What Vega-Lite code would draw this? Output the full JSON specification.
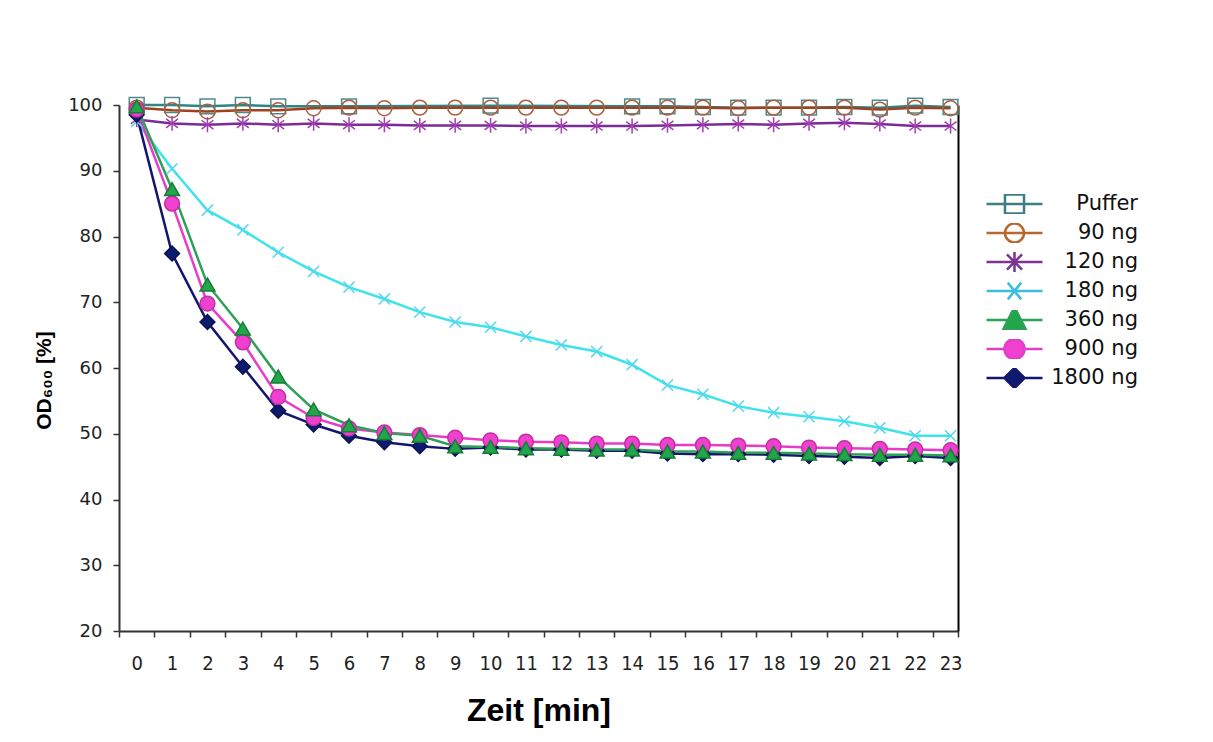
{
"$schema": "https://vega.github.io/schema/vega-lite/v6.json",
"width": 839, "height": 526,
"autosize": {"type": "none"},
"padding": {"left": 119, "top": 105, "right": 255, "bottom": 111},
"background": "white",
"config": {"view": {"stroke": null}, "font": "Liberation Sans", "axis": {"grid": false}},
"data": {"values": [
{"series":"Puffer","t":0,"od":100},{"series":"Puffer","t":1,"od":100},{"series":"Puffer","t":2,"od":99.8},{"series":"Puffer","t":3,"od":100},{"series":"Puffer","t":4,"od":99.8},{"series":"Puffer","t":6,"od":99.8},{"series":"Puffer","t":10,"od":99.9},{"series":"Puffer","t":14,"od":99.8},{"series":"Puffer","t":15,"od":99.8},{"series":"Puffer","t":16,"od":99.7},{"series":"Puffer","t":17,"od":99.6},{"series":"Puffer","t":18,"od":99.6},{"series":"Puffer","t":19,"od":99.6},{"series":"Puffer","t":20,"od":99.7},{"series":"Puffer","t":21,"od":99.6},{"series":"Puffer","t":22,"od":99.9},{"series":"Puffer","t":23,"od":99.7},
{"series":"90 ng","t":0,"od":99.6},{"series":"90 ng","t":1,"od":99.2},{"series":"90 ng","t":2,"od":99.0},{"series":"90 ng","t":3,"od":99.2},{"series":"90 ng","t":4,"od":99.2},{"series":"90 ng","t":5,"od":99.5},{"series":"90 ng","t":6,"od":99.6},{"series":"90 ng","t":7,"od":99.5},{"series":"90 ng","t":8,"od":99.6},{"series":"90 ng","t":9,"od":99.6},{"series":"90 ng","t":10,"od":99.6},{"series":"90 ng","t":11,"od":99.6},{"series":"90 ng","t":12,"od":99.6},{"series":"90 ng","t":13,"od":99.6},{"series":"90 ng","t":14,"od":99.6},{"series":"90 ng","t":15,"od":99.6},{"series":"90 ng","t":16,"od":99.6},{"series":"90 ng","t":17,"od":99.5},{"series":"90 ng","t":18,"od":99.6},{"series":"90 ng","t":19,"od":99.6},{"series":"90 ng","t":20,"od":99.6},{"series":"90 ng","t":21,"od":99.3},{"series":"90 ng","t":22,"od":99.6},{"series":"90 ng","t":23,"od":99.5},
{"series":"120 ng","t":0,"od":97.8},{"series":"120 ng","t":1,"od":97.2},{"series":"120 ng","t":2,"od":97.0},{"series":"120 ng","t":3,"od":97.2},{"series":"120 ng","t":4,"od":97.0},{"series":"120 ng","t":5,"od":97.2},{"series":"120 ng","t":6,"od":97.0},{"series":"120 ng","t":7,"od":97.0},{"series":"120 ng","t":8,"od":96.9},{"series":"120 ng","t":9,"od":96.9},{"series":"120 ng","t":10,"od":96.9},{"series":"120 ng","t":11,"od":96.8},{"series":"120 ng","t":12,"od":96.8},{"series":"120 ng","t":13,"od":96.8},{"series":"120 ng","t":14,"od":96.8},{"series":"120 ng","t":15,"od":96.9},{"series":"120 ng","t":16,"od":97.0},{"series":"120 ng","t":17,"od":97.1},{"series":"120 ng","t":18,"od":97.0},{"series":"120 ng","t":19,"od":97.2},{"series":"120 ng","t":20,"od":97.3},{"series":"120 ng","t":21,"od":97.1},{"series":"120 ng","t":22,"od":96.8},{"series":"120 ng","t":23,"od":96.8},
{"series":"180 ng","t":0,"od":97.5},{"series":"180 ng","t":1,"od":90.3},{"series":"180 ng","t":2,"od":84.0},{"series":"180 ng","t":3,"od":81.0},{"series":"180 ng","t":4,"od":77.6},{"series":"180 ng","t":5,"od":74.7},{"series":"180 ng","t":6,"od":72.3},{"series":"180 ng","t":7,"od":70.5},{"series":"180 ng","t":8,"od":68.5},{"series":"180 ng","t":9,"od":67.0},{"series":"180 ng","t":10,"od":66.2},{"series":"180 ng","t":11,"od":64.8},{"series":"180 ng","t":12,"od":63.5},{"series":"180 ng","t":13,"od":62.5},{"series":"180 ng","t":14,"od":60.5},{"series":"180 ng","t":15,"od":57.4},{"series":"180 ng","t":16,"od":56.0},{"series":"180 ng","t":17,"od":54.2},{"series":"180 ng","t":18,"od":53.2},{"series":"180 ng","t":19,"od":52.6},{"series":"180 ng","t":20,"od":51.9},{"series":"180 ng","t":21,"od":50.9},{"series":"180 ng","t":22,"od":49.7},{"series":"180 ng","t":23,"od":49.7},
{"series":"1800 ng","t":0,"od":98.5},{"series":"1800 ng","t":1,"od":77.4},{"series":"1800 ng","t":2,"od":67.0},{"series":"1800 ng","t":3,"od":60.2},{"series":"1800 ng","t":4,"od":53.5},{"series":"1800 ng","t":5,"od":51.4},{"series":"1800 ng","t":6,"od":49.7},{"series":"1800 ng","t":7,"od":48.7},{"series":"1800 ng","t":8,"od":48.1},{"series":"1800 ng","t":9,"od":47.7},{"series":"1800 ng","t":10,"od":47.9},{"series":"1800 ng","t":11,"od":47.6},{"series":"1800 ng","t":12,"od":47.6},{"series":"1800 ng","t":13,"od":47.4},{"series":"1800 ng","t":14,"od":47.4},{"series":"1800 ng","t":15,"od":47.0},{"series":"1800 ng","t":16,"od":46.9},{"series":"1800 ng","t":17,"od":46.9},{"series":"1800 ng","t":18,"od":46.8},{"series":"1800 ng","t":19,"od":46.6},{"series":"1800 ng","t":20,"od":46.5},{"series":"1800 ng","t":21,"od":46.3},{"series":"1800 ng","t":22,"od":46.6},{"series":"1800 ng","t":23,"od":46.3},
{"series":"900 ng","t":0,"od":99.3},{"series":"900 ng","t":1,"od":85.0},{"series":"900 ng","t":2,"od":69.8},{"series":"900 ng","t":3,"od":63.9},{"series":"900 ng","t":4,"od":55.6},{"series":"900 ng","t":5,"od":52.4},{"series":"900 ng","t":6,"od":50.8},{"series":"900 ng","t":7,"od":50.2},{"series":"900 ng","t":8,"od":49.8},{"series":"900 ng","t":9,"od":49.4},{"series":"900 ng","t":10,"od":49.0},{"series":"900 ng","t":11,"od":48.8},{"series":"900 ng","t":12,"od":48.7},{"series":"900 ng","t":13,"od":48.5},{"series":"900 ng","t":14,"od":48.5},{"series":"900 ng","t":15,"od":48.3},{"series":"900 ng","t":16,"od":48.3},{"series":"900 ng","t":17,"od":48.2},{"series":"900 ng","t":18,"od":48.1},{"series":"900 ng","t":19,"od":47.9},{"series":"900 ng","t":20,"od":47.8},{"series":"900 ng","t":21,"od":47.7},{"series":"900 ng","t":22,"od":47.6},{"series":"900 ng","t":23,"od":47.5},
{"series":"360 ng","t":0,"od":99.8},{"series":"360 ng","t":1,"od":87.2},{"series":"360 ng","t":2,"od":72.7},{"series":"360 ng","t":3,"od":66.0},{"series":"360 ng","t":4,"od":58.7},{"series":"360 ng","t":5,"od":53.7},{"series":"360 ng","t":6,"od":51.3},{"series":"360 ng","t":7,"od":50.1},{"series":"360 ng","t":8,"od":49.7},{"series":"360 ng","t":9,"od":48.1},{"series":"360 ng","t":10,"od":48.0},{"series":"360 ng","t":11,"od":47.8},{"series":"360 ng","t":12,"od":47.7},{"series":"360 ng","t":13,"od":47.6},{"series":"360 ng","t":14,"od":47.6},{"series":"360 ng","t":15,"od":47.3},{"series":"360 ng","t":16,"od":47.3},{"series":"360 ng","t":17,"od":47.1},{"series":"360 ng","t":18,"od":47.1},{"series":"360 ng","t":19,"od":47.0},{"series":"360 ng","t":20,"od":46.9},{"series":"360 ng","t":21,"od":46.8},{"series":"360 ng","t":22,"od":46.8},{"series":"360 ng","t":23,"od":46.7}
]},
"layer": [
{
"mark": {"type": "line", "strokeWidth": 2.5},
"encoding": {
"x": {"field": "t", "type": "quantitative", "scale": {"domain": [-0.5, 23.21], "nice": false, "zero": false},
 "axis": {"orient": "bottom", "values": [-0.5,0.5,1.5,2.5,3.5,4.5,5.5,6.5,7.5,8.5,9.5,10.5,11.5,12.5,13.5,14.5,15.5,16.5,17.5,18.5,19.5,20.5,21.5,22.5,23.21], "labels": false, "ticks": true, "tickSize": 6, "tickColor": "#333", "tickWidth": 1.5, "domain": true, "domainColor": "#333", "domainWidth": 2, "grid": false,
  "title": "Zeit [min]", "titleFontSize": 32, "titleFontWeight": "bold", "titleColor": "#000", "titlePadding": 58, "titleFont": "Liberation Sans"}},
"y": {"field": "od", "type": "quantitative", "scale": {"domain": [20, 100], "nice": false, "zero": false},
 "axis": {"orient": "left", "values": [20,30,40,50,60,70,80,90,100], "tickSize": 6, "tickColor": "#333", "tickWidth": 1.5, "domain": true, "domainColor": "#333", "domainWidth": 2, "grid": false,
  "labelFontSize": 18, "labelFont": "DejaVu Sans", "labelColor": "#222", "labelPadding": 11,
  "title": "OD₆₀₀ [%]", "titleFontSize": 21, "titleFontWeight": "bold", "titleColor": "#000", "titlePadding": 13, "titleY": 275}},
"color": {"field": "series", "type": "nominal", "legend": null,
 "scale": {"domain": ["Puffer","90 ng","120 ng","180 ng","360 ng","900 ng","1800 ng"], "range": ["#2D8585","#A0401E","#7B2C96","#3FE3EA","#2EA057","#E83CC8","#14166E"]}}
}
},
{
"mark": {"type": "point", "strokeWidth": 1.5, "opacity": 1, "size": 220},
"encoding": {
"x": {"field": "t", "type": "quantitative",
 "axis": {"orient": "bottom", "values": [0,1,2,3,4,5,6,7,8,9,10,11,12,13,14,15,16,17,18,19,20,21,22,23], "ticks": false, "tickSize": 0, "domain": false, "grid": false, "labelPadding": 22, "labelFontSize": 20, "labelColor": "#222", "labelFont": "Liberation Sans Narrow, DejaVu Sans Condensed, Liberation Sans", "title": null}},
"y": {"field": "od", "type": "quantitative",
 "axis": {"orient": "right", "ticks": false, "labels": false, "domain": true, "domainColor": "#000", "domainWidth": 2, "grid": false, "title": null}},
"shape": {"field": "series", "type": "nominal", "legend": null,
 "scale": {"domain": ["Puffer","90 ng","120 ng","180 ng","360 ng","900 ng","1800 ng"], "range": ["square","circle","M0,-1V1M-0.8,-0.6L0.8,0.6M-0.8,0.6L0.8,-0.6","M-0.75,-0.75L0.75,0.75M-0.75,0.75L0.75,-0.75","triangle-up","circle","diamond"]}},
"stroke": {"field": "series", "type": "nominal", "legend": null,
 "scale": {"domain": ["Puffer","90 ng","120 ng","180 ng","360 ng","900 ng","1800 ng"], "range": ["#4F8A8B","#A8603F","#A040B0","#55D5F0","#1A7A3A","#C0309F","#0A1450"]}},
"fill": {"field": "series", "type": "nominal", "legend": null,
 "scale": {"domain": ["Puffer","90 ng","120 ng","180 ng","360 ng","900 ng","1800 ng"], "range": ["transparent","transparent","transparent","transparent","#22A64A","#F040D0","#0D1B6E"]}}
}
},
{
"transform": [{"filter": "false"}],
"mark": {"type": "point", "strokeWidth": 2.5, "opacity": 1},
"encoding": {
"color": {"field": "series", "type": "nominal",
 "scale": {"domain": ["Puffer","90 ng","120 ng","180 ng","360 ng","900 ng","1800 ng"], "range": ["#3A7F86","#B8672E","#7A3590","#3DBDE0","#2EA057","#E040C8","#14166E"]},
 "legend": {"orient": "none", "legendX": 866, "legendY": 89, "title": null, "symbolSize": 3136, "clipHeight": 20, "rowPadding": 8, "labelFontSize": 21, "labelAlign": "right", "labelOffset": 94, "labelColor": "#111", "symbolStrokeWidth": 2.5, "padding": 0, "labelFont": "DejaVu Sans"}},
"fill": {"field": "series", "type": "nominal",
 "scale": {"domain": ["Puffer","90 ng","120 ng","180 ng","360 ng","900 ng","1800 ng"], "range": ["transparent","transparent","transparent","transparent","#22A64A","#F040D0","#0D1B6E"]},
 "legend": {"orient": "none", "legendX": 866, "legendY": 89, "title": null, "symbolSize": 3136, "clipHeight": 20, "rowPadding": 8, "labelFontSize": 21, "labelAlign": "right", "labelOffset": 94, "labelColor": "#111", "symbolStrokeWidth": 2.5, "padding": 0, "labelFont": "DejaVu Sans"}},
"shape": {"field": "series", "type": "nominal",
 "scale": {"domain": ["Puffer","90 ng","120 ng","180 ng","360 ng","900 ng","1800 ng"], "range": [
  "M-1,0H1M-0.34,-0.34H0.34V0.34H-0.34Z",
  "M-1,0H1M0.34,0A0.34,0.34 0 1 1 -0.34,0A0.34,0.34 0 1 1 0.34,0Z",
  "M-1,0H1M0,-0.36V0.36M-0.27,-0.27L0.27,0.27M-0.27,0.27L0.27,-0.27",
  "M-1,0H1M-0.24,-0.3L0.24,0.3M-0.24,0.3L0.24,-0.3",
  "M-1,0H-0.24M0.24,0H1M0,-0.46L0.4,0.33L-0.4,0.33Z",
  "M-1,0H-0.36M0.36,0H1M0.36,0A0.36,0.36 0 1 1 -0.36,0A0.36,0.36 0 1 1 0.36,0Z",
  "M-1,0H-0.36M0.36,0H1M-0.36,0L0,-0.36L0.36,0L0,0.36Z"]},
 "legend": {"orient": "none", "legendX": 866, "legendY": 89, "title": null, "symbolSize": 3136, "clipHeight": 20, "rowPadding": 8, "labelFontSize": 21, "labelAlign": "right", "labelOffset": 94, "labelColor": "#111", "symbolStrokeWidth": 2.5, "padding": 0, "labelFont": "DejaVu Sans"}}
}
}
],
"resolve": {"scale": {"color": "independent", "fill": "independent", "shape": "independent", "stroke": "independent"}, "axis": {"x": "independent", "y": "independent"}}
}
